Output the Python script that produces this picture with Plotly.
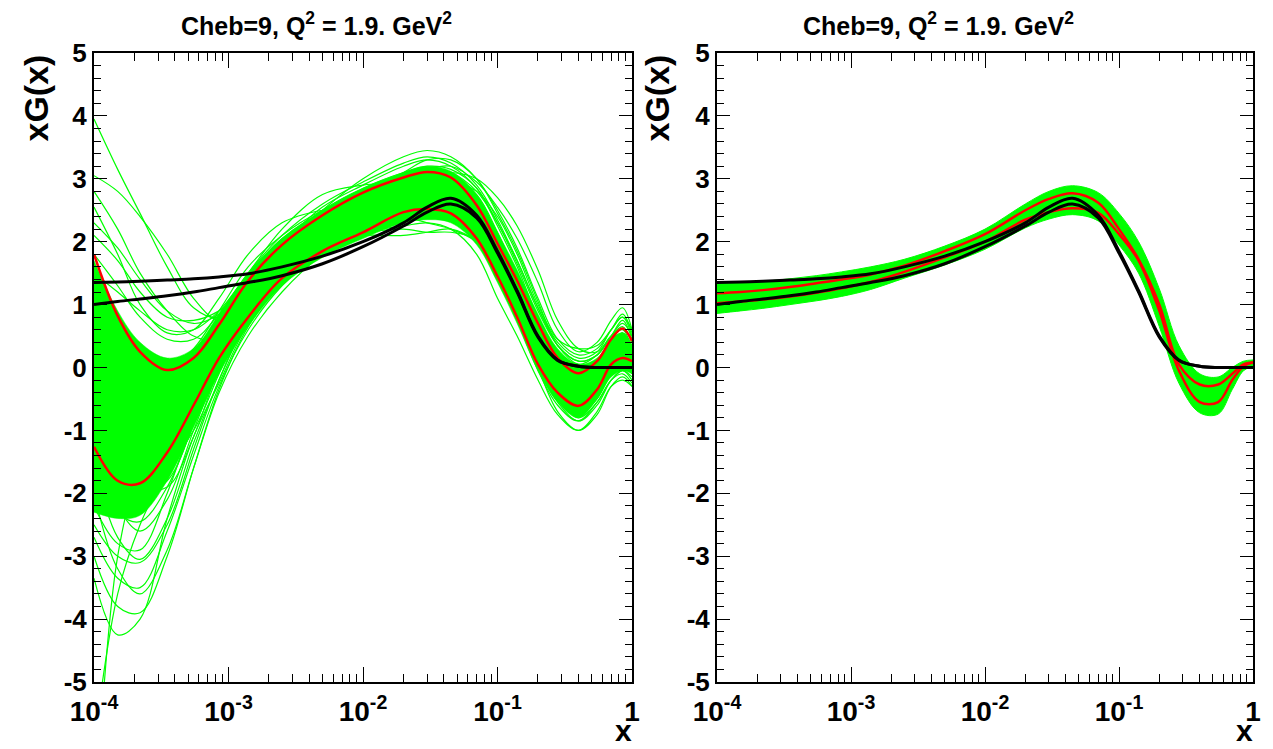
import plotly.graph_objects as go
from plotly.subplots import make_subplots

# common x grid (log scale) used by every curve
X_GRID = [1e-4, 1.5e-4, 2.2e-4, 3.5e-4, 5.5e-4, 8.5e-4, 1.4e-3, 2.5e-3, 5e-3, 1e-2,
          2e-2, 3e-2, 4.5e-2, 7e-2, 0.1, 0.14, 0.2, 0.28, 0.4, 0.55, 0.7, 0.85, 1.0]

# black reference curves (same in both panels)
BLACK_A = [1.35, 1.36, 1.37, 1.39, 1.41, 1.44, 1.49, 1.60, 1.77, 2.00, 2.30, 2.55, 2.69,
           2.42, 1.85, 1.22, 0.50, 0.12, 0.02, 0.0, 0.0, 0.0, 0.0]
BLACK_B = [1.00, 1.05, 1.09, 1.14, 1.20, 1.27, 1.35, 1.46, 1.65, 1.92, 2.25, 2.47, 2.60,
           2.38, 1.82, 1.20, 0.48, 0.11, 0.02, 0.0, 0.0, 0.0, 0.0]

# red band edges, left panel
RED_UP_L = [1.80, 0.82, 0.25, -0.04, 0.15, 0.68, 1.38, 1.95, 2.42, 2.78, 3.02, 3.11, 3.02,
            2.58, 1.97, 1.38, 0.70, 0.15, -0.09, 0.10, 0.45, 0.62, 0.42]
RED_LO_L = [-1.26, -1.80, -1.84, -1.35, -0.60, 0.15, 0.80, 1.42, 1.85, 2.15, 2.47, 2.52, 2.45,
            2.05, 1.45, 0.80, 0.05, -0.40, -0.61, -0.35, 0.05, 0.15, 0.10]

# red band edges, right panel
RED_UP_R = [1.18, 1.20, 1.23, 1.28, 1.34, 1.40, 1.48, 1.62, 1.85, 2.12, 2.50, 2.68, 2.77,
            2.62, 2.20, 1.72, 1.00, 0.05, -0.27, -0.27, -0.10, 0.05, 0.08]
RED_LO_R = [1.02, 1.05, 1.08, 1.13, 1.19, 1.26, 1.36, 1.52, 1.75, 2.00, 2.35, 2.47, 2.53,
            2.46, 2.12, 1.70, 0.90, -0.05, -0.55, -0.55, -0.20, 0.02, 0.08]

# dense green region, left panel
GREEN_TOP_L = [1.70, 0.90, 0.40, 0.15, 0.30, 0.85, 1.50, 2.05, 2.50, 2.85, 3.10, 3.20, 3.12,
               2.75, 2.15, 1.55, 0.85, 0.30, 0.05, 0.15, 0.45, 0.55, 0.35]
GREEN_BOT_L = [-2.30, -2.40, -2.35, -1.80, -0.95, -0.10, 0.65, 1.30, 1.75, 2.05, 2.30, 2.35, 2.30,
               1.95, 1.35, 0.70, -0.05, -0.55, -0.80, -0.50, -0.15, -0.05, -0.10]

# green replica band, right panel
GREEN_TOP_R = [1.33, 1.35, 1.37, 1.41, 1.46, 1.52, 1.60, 1.72, 1.93, 2.20, 2.60, 2.80, 2.89,
               2.78, 2.45, 2.00, 1.25, 0.35, -0.10, -0.15, 0.00, 0.10, 0.12]
GREEN_BOT_R = [0.86, 0.90, 0.94, 1.00, 1.06, 1.13, 1.24, 1.42, 1.63, 1.88, 2.22, 2.36, 2.43,
               2.33, 1.95, 1.50, 0.65, -0.25, -0.72, -0.74, -0.35, -0.05, 0.02]

# individual replicas, left panel
REP_01 = [3.95, 3.15, 2.45, 1.6, 0.95, 0.8, 1.3, 1.95, 2.55, 2.9, 3.2, 3.3, 3.2, 2.85, 2.3, 1.65, 0.9, 0.35, 0.1, 0.2, 0.5, 0.7, 0.5]
REP_02 = [3.05, 2.8, 2.4, 1.8, 1.1, 0.75, 1.05, 1.7, 2.3, 2.65, 2.9, 3.05, 3.05, 2.75, 2.15, 1.45, 0.7, 0.1, -0.2, -0.1, 0.15, 0.35, 0.2]
REP_03 = [2.55, 1.8, 1.0, 0.55, 0.6, 1.1, 1.8, 2.3, 2.5, 2.55, 2.7, 2.9, 2.95, 2.8, 2.4, 1.8, 1.0, 0.45, 0.3, 0.35, 0.6, 0.8, 0.6]
REP_04 = [2.1, 1.7, 1.2, 0.8, 0.75, 0.9, 1.3, 1.9, 2.5, 3.0, 3.35, 3.45, 3.35, 3.0, 2.5, 1.9, 1.1, 0.45, 0.2, 0.3, 0.6, 0.85, 0.55]
REP_05 = [0.5, -0.3, -0.8, -0.9, -0.5, 0.2, 1.0, 1.6, 2.0, 2.1, 2.1, 2.15, 2.2, 2.0, 1.6, 1.0, 0.25, -0.45, -0.8, -0.55, -0.2, -0.05, -0.2]
REP_06 = [-3.35, -4.25, -4.0, -2.4, -1.1, -0.25, 0.7, 1.4, 1.9, 2.15, 2.25, 2.3, 2.2, 1.8, 1.1, 0.5, -0.2, -0.75, -1.0, -0.7, -0.3, -0.2, -0.3]
REP_07 = [-7.5, -3.0, -1.6, -0.9, -0.3, 0.4, 1.1, 1.7, 2.2, 2.55, 2.8, 2.85, 2.8, 2.45, 1.85, 1.2, 0.45, -0.15, -0.4, -0.25, 0.1, 0.25, 0.1]
REP_08 = [-6.0, -3.6, -2.5, -1.6, -0.7, 0.2, 1.0, 1.6, 2.05, 2.35, 2.6, 2.7, 2.65, 2.3, 1.7, 1.0, 0.2, -0.4, -0.7, -0.45, -0.1, 0.05, -0.1]
REP_09 = [-2.7, -3.35, -3.5, -2.6, -1.4, -0.3, 0.6, 1.3, 1.85, 2.2, 2.5, 2.65, 2.7, 2.45, 1.9, 1.25, 0.5, -0.1, -0.5, -0.35, 0.05, 0.2, 0.1]
REP_10 = [-1.5, -2.7, -3.05, -2.4, -1.2, -0.2, 0.8, 1.5, 2.1, 2.5, 2.85, 3.0, 2.95, 2.65, 2.1, 1.45, 0.7, 0.1, -0.2, -0.05, 0.3, 0.45, 0.3]
REP_11 = [-0.8, -2.2, -2.6, -2.1, -1.0, 0.0, 0.9, 1.5, 1.95, 2.3, 2.6, 2.75, 2.7, 2.35, 1.75, 1.05, 0.25, -0.4, -0.7, -0.45, -0.05, 0.05, -0.1]
REP_12 = [1.2, 0.0, -1.0, -1.5, -1.0, -0.1, 0.9, 1.7, 2.3, 2.7, 3.0, 3.15, 3.1, 2.8, 2.3, 1.7, 0.95, 0.35, 0.1, 0.2, 0.5, 0.65, 0.4]
REP_13 = [-0.5, -1.5, -2.0, -1.8, -0.9, 0.1, 1.0, 1.65, 2.1, 2.35, 2.45, 2.45, 2.35, 2.05, 1.45, 0.75, -0.05, -0.6, -0.85, -0.55, -0.2, -0.1, -0.25]
REP_14 = [1.5, 1.2, 0.9, 0.6, 0.6, 0.9, 1.5, 2.2, 2.75, 2.9, 2.95, 3.05, 3.1, 3.0, 2.7, 2.25, 1.55, 0.75, 0.3, 0.25, 0.5, 0.6, 0.3]
REP_15 = [0.2, -0.7, -1.2, -1.0, -0.3, 0.5, 1.3, 1.9, 2.3, 2.45, 2.4, 2.3, 2.2, 2.0, 1.65, 1.1, 0.4, -0.2, -0.55, -0.35, 0.0, 0.1, 0.0]
REP_16 = [-1.8, -2.0, -1.9, -1.3, -0.4, 0.5, 1.2, 1.8, 2.3, 2.7, 3.1, 3.3, 3.3, 3.0, 2.45, 1.85, 1.05, 0.35, 0.05, 0.1, 0.4, 0.55, 0.3]
REP_17 = [-2.2, -2.8, -2.9, -2.0, -0.8, 0.2, 1.1, 1.8, 2.4, 2.8, 3.05, 3.1, 3.0, 2.6, 1.95, 1.25, 0.4, -0.3, -0.65, -0.45, -0.05, 0.1, 0.0]
REP_18 = [0.8, 0.0, -0.6, -0.7, -0.2, 0.6, 1.3, 1.8, 2.05, 2.15, 2.2, 2.15, 2.15, 2.05, 1.75, 1.25, 0.5, -0.1, -0.4, -0.25, 0.15, 0.3, 0.2]
REP_19 = [1.0, 0.5, 0.1, 0.0, 0.3, 0.9, 1.6, 2.1, 2.5, 2.75, 3.0, 3.15, 3.2, 2.95, 2.55, 2.05, 1.35, 0.6, 0.25, 0.4, 0.75, 0.95, 0.6]
REP_20 = [-1.0, -1.6, -1.7, -1.3, -0.6, 0.3, 1.1, 1.7, 2.15, 2.45, 2.65, 2.7, 2.6, 2.2, 1.55, 0.85, 0.0, -0.7, -1.0, -0.75, -0.3, -0.15, -0.3]
REP_21 = [-2.0, -3.2, -3.6, -2.9, -1.6, -0.4, 0.5, 1.2, 1.8, 2.2, 2.5, 2.6, 2.55, 2.25, 1.7, 1.05, 0.3, -0.3, -0.6, -0.4, -0.05, 0.1, 0.0]
REP_22 = [-1.2, -2.3, -2.45, -1.9, -0.9, 0.1, 0.95, 1.6, 2.05, 2.4, 2.7, 2.85, 2.8, 2.45, 1.85, 1.15, 0.35, -0.3, -0.6, -0.4, 0.0, 0.15, 0.05]
REP_23 = [-2.5, -3.0, -3.1, -2.5, -1.3, -0.2, 0.75, 1.45, 1.95, 2.25, 2.45, 2.5, 2.45, 2.1, 1.5, 0.8, 0.0, -0.55, -0.85, -0.6, -0.2, -0.05, -0.15]
REP_24 = [2.3, 1.9, 1.4, 0.9, 0.7, 0.85, 1.35, 1.95, 2.5, 2.85, 3.1, 3.2, 3.15, 2.85, 2.25, 1.6, 0.8, 0.25, 0.05, 0.2, 0.5, 0.75, 0.45]
REP_25 = [1.8, 1.3, 0.8, 0.45, 0.45, 0.85, 1.5, 2.1, 2.6, 2.95, 3.25, 3.35, 3.25, 2.9, 2.35, 1.7, 0.95, 0.4, 0.15, 0.25, 0.6, 0.8, 0.5]
REP_26 = [2.8, 2.2, 1.5, 0.9, 0.5, 0.45, 0.9, 1.6, 2.2, 2.6, 2.95, 3.1, 3.05, 2.7, 2.1, 1.5, 0.75, 0.2, -0.05, 0.05, 0.35, 0.55, 0.35]
REP_27 = [-0.3, -1.0, -1.4, -1.3, -0.6, 0.35, 1.2, 1.85, 2.3, 2.55, 2.7, 2.75, 2.7, 2.4, 1.8, 1.15, 0.4, -0.2, -0.5, -0.3, 0.1, 0.2, 0.1]
REP_28 = [0.0, -1.2, -1.9, -1.9, -1.1, 0.0, 0.95, 1.7, 2.25, 2.6, 2.9, 3.0, 2.9, 2.55, 1.95, 1.3, 0.55, -0.05, -0.35, -0.2, 0.2, 0.35, 0.2]
REP_29 = [-3.0, -3.8, -3.9, -3.0, -1.6, -0.35, 0.65, 1.35, 1.9, 2.25, 2.5, 2.55, 2.5, 2.15, 1.55, 0.9, 0.1, -0.45, -0.75, -0.5, -0.1, 0.05, -0.05]
REP_30 = [0.9, 0.6, 0.3, 0.1, 0.2, 0.7, 1.45, 2.05, 2.45, 2.6, 2.65, 2.6, 2.5, 2.3, 1.9, 1.35, 0.6, 0.0, -0.3, -0.15, 0.25, 0.4, 0.25]

REPLICAS_L = [REP_01, REP_02, REP_03, REP_04, REP_05, REP_06, REP_07, REP_08, REP_09, REP_10,
              REP_11, REP_12, REP_13, REP_14, REP_15, REP_16, REP_17, REP_18, REP_19, REP_20,
              REP_21, REP_22, REP_23, REP_24, REP_25, REP_26, REP_27, REP_28, REP_29, REP_30]

X_TICKS = [1e-4, 1e-3, 1e-2, 1e-1, 1]
X_TICK_TEXT = ["10<sup>-4</sup>", "10<sup>-3</sup>", "10<sup>-2</sup>", "10<sup>-1</sup>", "1"]
Y_TICKS = [-5, -4, -3, -2, -1, 0, 1, 2, 3, 4, 5]
Y_TICK_TEXT = ["-5", "-4", "-3", "-2", "-1", "0", "1", "2", "3", "4", "5"]
TITLE = "Cheb=9, Q<sup>2</sup> = 1.9. GeV<sup>2</sup>"

FONT = "Liberation Sans, Arial, Helvetica, sans-serif"
GREEN = "#00ff00"
W, H = 1273, 749
OFF = 8  # page body margin of the html output
FW, FH = W - OFF, H - OFF


def fx(p):
    # window pixel -> paper fraction (x)
    return (p - OFF) / FW


def fy(p):
    # window pixel -> paper fraction (y)
    return 1 - (p - OFF) / FH


# minor ticks between decades
minor_x = [k * 10 ** e for e in range(-4, 0) for k in range(2, 10)]

fig = make_subplots(rows=1, cols=2)


def spline(x, y, color, width, col, **kw):
    fig.add_trace(go.Scatter(x=x, y=y, mode="lines", line=dict(color=color, width=width, shape="spline"),
                             showlegend=False, hoverinfo="skip", **kw), row=1, col=col)


# left panel: dense core + individual replicas
spline(X_GRID, GREEN_BOT_L, GREEN, 0.5, 1)
spline(X_GRID, GREEN_TOP_L, GREEN, 0.5, 1, fill="tonexty", fillcolor=GREEN)
for rep in REPLICAS_L:
    spline(X_GRID, rep, GREEN, 1.2, 1)
spline(X_GRID, RED_UP_L, "#ff0000", 2.5, 1)
spline(X_GRID, RED_LO_L, "#ff0000", 2.5, 1)
spline(X_GRID, BLACK_A, "black", 3, 1)
spline(X_GRID, BLACK_B, "black", 3, 1)

# right panel
spline(X_GRID, GREEN_BOT_R, GREEN, 1, 2)
spline(X_GRID, GREEN_TOP_R, GREEN, 1, 2, fill="tonexty", fillcolor=GREEN)
spline(X_GRID, RED_UP_R, "#ff0000", 2.5, 2)
spline(X_GRID, RED_LO_R, "#ff0000", 2.5, 2)
spline(X_GRID, BLACK_A, "black", 3, 2)
spline(X_GRID, BLACK_B, "black", 3, 2)

xaxis_style = dict(
    type="log", range=[-4, 0], tickmode="array", tickvals=X_TICKS, ticktext=X_TICK_TEXT,
    ticks="inside", ticklen=15, tickwidth=1, tickcolor="black",
    showline=True, linecolor="black", linewidth=2, mirror="ticks",
    showgrid=False, zeroline=False, automargin=False, ticklabelstandoff=3,
    minor=dict(tickmode="array", tickvals=minor_x, ticks="inside", ticklen=8, tickcolor="black", showgrid=False),
    tickfont=dict(family=FONT, size=28, color="black", weight="bold"),
)
yaxis_style = dict(
    range=[-5, 5], tickmode="array", tickvals=Y_TICKS, ticktext=Y_TICK_TEXT,
    ticks="inside", ticklen=13, tickwidth=1, tickcolor="black",
    showline=True, linecolor="black", linewidth=2, mirror="ticks",
    showgrid=False, zeroline=False, automargin=False,
    minor=dict(dtick=0.2, ticks="inside", ticklen=7, tickcolor="black", showgrid=False),
    tickfont=dict(family=FONT, size=26, color="black", weight="bold"),
)

left = (94, 632)
right = (717, 1253)
top, bottom = 53, 682

fig.update_xaxes(**xaxis_style)
fig.update_yaxes(**yaxis_style)
fig.update_layout(
    xaxis=dict(domain=[fx(left[0]), fx(left[1])]),
    xaxis2=dict(domain=[fx(right[0]), fx(right[1])]),
    yaxis=dict(domain=[fy(bottom), fy(top)]),
    yaxis2=dict(domain=[fy(bottom), fy(top)]),
    width=FW, height=FH,
    margin=dict(l=0, r=0, t=0, b=0, autoexpand=False),
    plot_bgcolor="white", paper_bgcolor="white",
    showlegend=False,
    font=dict(family=FONT, color="black"),
)

# titles and axis labels
for x1, tx, lx in ((left[1], 316, 35), (right[1], 938, 656)):
    fig.add_annotation(text=TITLE, x=fx(tx), y=fy(24), xref="paper", yref="paper",
                       showarrow=False, xanchor="center", yanchor="middle",
                       font=dict(family=FONT, size=25, color="black", weight="bold"))
    fig.add_annotation(text="xG(x)", x=fx(lx), y=fy(top), xref="paper", yref="paper",
                       showarrow=False, textangle=-90, xanchor="center", yanchor="top",
                       font=dict(family=FONT, size=34, color="black", weight="bold"))
    fig.add_annotation(text="x", x=fx(x1 + 2), y=fy(749), xref="paper", yref="paper",
                       showarrow=False, xanchor="right", yanchor="bottom",
                       font=dict(family=FONT, size=30, color="black", weight="bold"))

fig.write_html("out.html")
